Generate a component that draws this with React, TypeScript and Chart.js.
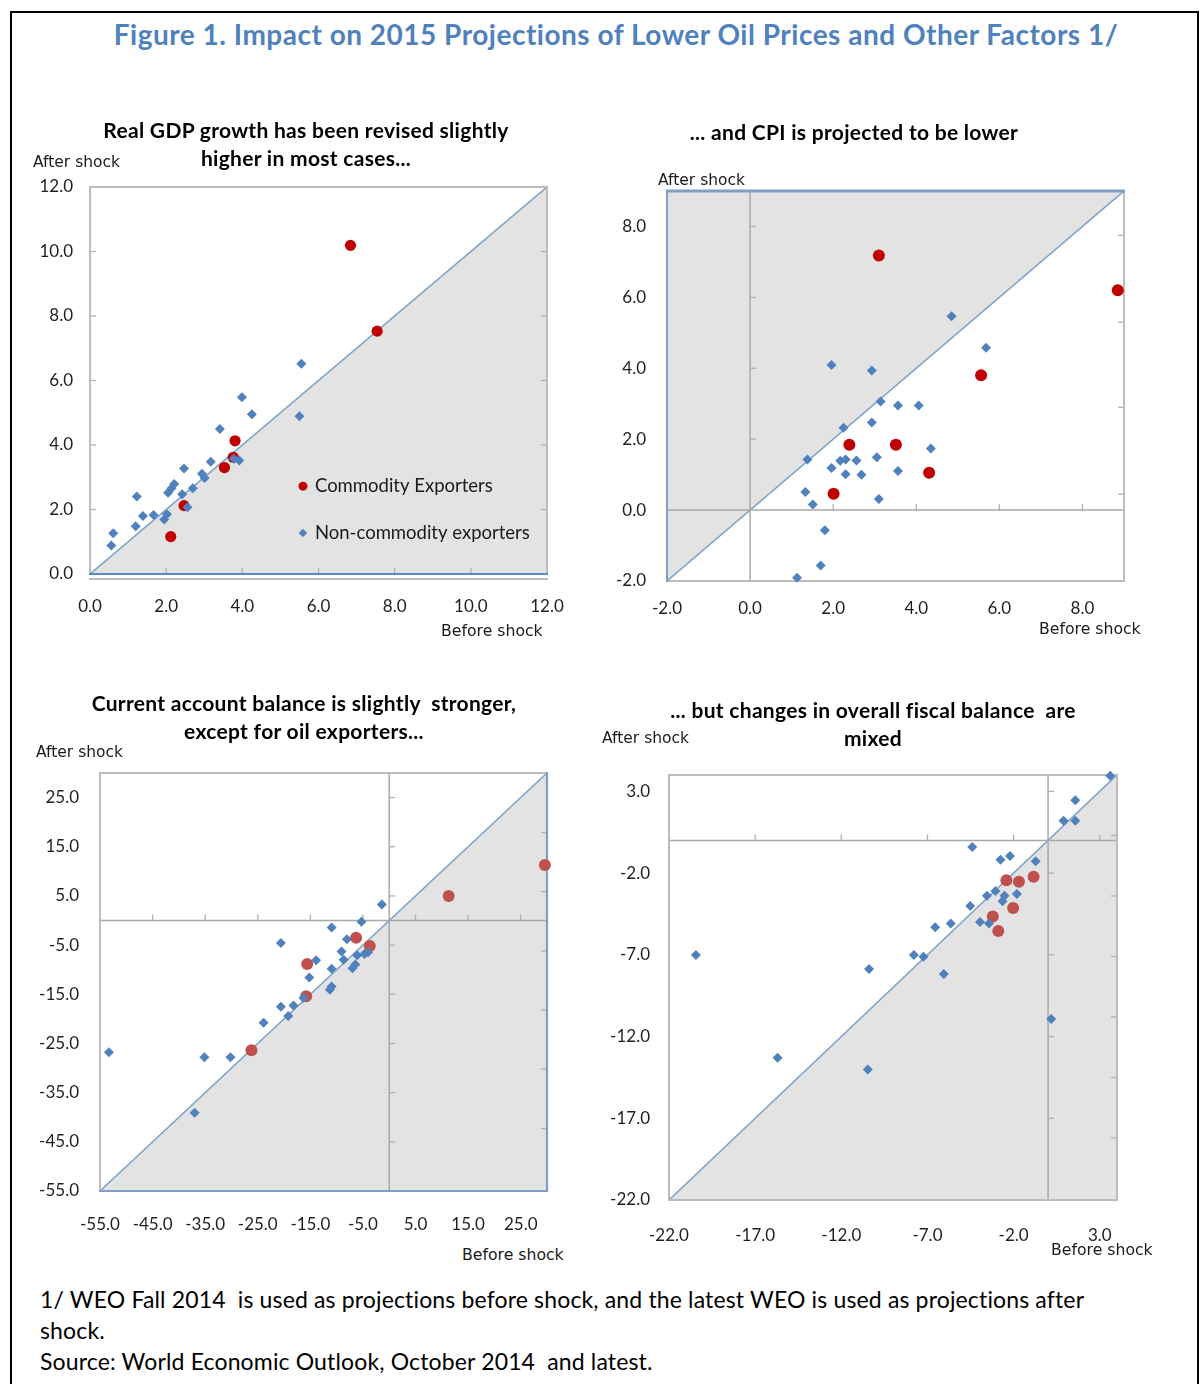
import React, { useEffect, useRef } from 'react';
import { Chart, registerables } from 'chart.js';

Chart.register(...registerables);

// ---------------- Panel 1: Real GDP growth ----------------
const gdpTicks = [0, 2, 4, 6, 8, 10, 12];
const gdpCommodityBefore = [6.84, 7.54, 3.81, 3.76, 3.53, 2.47, 2.12];
const gdpCommodityAfter = [10.19, 7.53, 4.13, 3.62, 3.30, 2.12, 1.16];
const gdpNonBefore = [0.56, 0.61, 1.20, 1.23, 1.39, 1.67, 1.95, 2.02, 2.05, 2.14, 2.21, 2.42, 2.47, 2.56, 2.70, 2.94, 3.01, 3.17, 3.41, 3.78, 3.92, 3.99, 4.25, 5.55, 5.50];
const gdpNonAfter = [0.88, 1.26, 1.48, 2.40, 1.80, 1.83, 1.69, 1.85, 2.52, 2.66, 2.79, 2.47, 3.27, 2.07, 2.66, 3.11, 2.98, 3.48, 4.50, 3.57, 3.52, 5.48, 4.95, 6.52, 4.89];
const gdpInnerTicks = [2, 4, 6, 8, 10];
const gdpRightTicks = [2, 4, 6, 8, 10];

// ---------------- Panel 2: CPI ----------------
const cpiTicks = [-2, 0, 2, 4, 6, 8];
const cpiCommodityBefore = [3.10, 8.85, 5.56, 2.39, 3.51, 4.31, 2.01];
const cpiCommodityAfter = [7.18, 6.20, 3.80, 1.84, 1.84, 1.05, 0.46];
const cpiNonBefore = [4.85, 5.68, 1.96, 2.93, 3.14, 3.56, 4.06, 2.25, 2.93, 4.35, 1.38, 1.96, 2.17, 2.30, 2.56, 3.05, 2.30, 2.68, 3.56, 1.33, 1.51, 3.10, 1.80, 1.70, 1.13];
const cpiNonAfter = [5.47, 4.58, 4.09, 3.94, 3.06, 2.95, 2.95, 2.32, 2.47, 1.74, 1.43, 1.19, 1.39, 1.43, 1.40, 1.49, 1.01, 1.00, 1.10, 0.51, 0.16, 0.31, -0.57, -1.56, -1.91];
const cpiInnerXTicks = [2, 4, 6, 8];
const cpiInnerYTicks = [2, 4, 6, 8];
const cpiRightTicks = [0.45, 2.9, 5.3, 7.75];

// ---------------- Panel 3: Current account ----------------
const caTicks = [-55, -45, -35, -25, -15, -5, 5, 15, 25];
const caCommodityBefore = [29.6, 11.3, -6.3, -3.7, -15.6, -15.8, -26.2];
const caCommodityAfter = [11.3, 5.0, -3.5, -5.2, -8.85, -15.4, -26.4];
const caNonBefore = [-1.4, -5.28, -10.95, -20.6, -8.04, -9.08, -8.66, -6.1, -4.72, -4.03, -13.9, -10.95, -6.45, -7.0, -15.2, -10.95, -11.3, -16.3, -20.6, -18.2, -19.2, -23.9, -35.15, -30.2, -53.3, -37.0];
const caNonAfter = [3.26, -0.23, -1.4, -4.58, -3.8, -6.3, -8.0, -7.07, -6.83, -6.45, -8.08, -9.79, -8.93, -9.71, -11.57, -13.4, -14.06, -15.77, -17.55, -17.3, -19.4, -20.8, -27.8, -27.8, -26.8, -39.1];
const caInnerXTicks = [-45, -35, -25, -15, -5, 5, 15, 25];
const caInnerYTicks = [25, 15, 5, -5, -15, -25, -35, -45];
const caRightTicks = [17.9, 5.9, -6.2, -18.2, -30.2, -42.3];

// ---------------- Panel 4: Fiscal balance ----------------
const fiscalTicks = [-22, -17, -12, -7, -2, 3];
const fiscalCommodityBefore = [-2.42, -1.69, -0.84, -2.03, -3.21, -2.89];
const fiscalCommodityAfter = [-2.44, -2.53, -2.22, -4.14, -4.66, -5.54];
const fiscalNonBefore = [3.61, 1.58, 0.90, 1.58, -4.40, -2.76, -2.21, -0.72, -3.05, -3.55, -2.53, -1.81, -2.64, -4.52, -3.95, -3.43, -5.65, -6.55, -7.79, -7.23, -6.05, -10.39, -20.44, -15.7, -10.46, 0.18];
const fiscalNonAfter = [3.96, 2.46, 1.20, 1.20, -0.41, -1.18, -0.95, -1.27, -3.10, -3.39, -3.39, -3.28, -3.73, -4.02, -5.0, -5.09, -5.09, -5.31, -7.01, -7.12, -8.18, -7.87, -7.01, -13.29, -14.01, -10.92];
const fiscalInnerXTicks = [-17, -12, -7, -2, 3];
const fiscalInnerYTicks = [3, -2, -7, -12, -17];
const fiscalRightTicks = [0.3, -3.4, -7.1, -10.8, -14.5, -18.2];

const LEGEND_LABELS = ['Commodity Exporters', 'Non-commodity exporters'];

// ---------------- styles ----------------
const BLUE = '#4f81bd';
const DARK_RED = '#c00000';
const SOFT_RED = '#c0504d';
const SHADE = '#e3e3e3';
const DIAG = '#7ea3c7';
const GRAY = '#bcbcbc';
const EDGE_BLUE = '#7f9fc6';
const TICK_FONT = 'Lato, "Open Sans", sans-serif';

const zip = (xs: number[], ys: number[]) => xs.map((x, i) => ({ x, y: ys[i] }));

const decorPlugin = {
  id: 'decor',
  afterDatasetDraw(chart: any, args: any, opts: any) {
    if (args.index !== 0) return;
    const { ctx, chartArea: a } = chart;
    const xs = chart.scales.x;
    const ys = chart.scales.y;
    const line = (x1: number, y1: number, x2: number, y2: number) => {
      ctx.beginPath();
      ctx.moveTo(x1, y1);
      ctx.lineTo(x2, y2);
      ctx.stroke();
    };
    ctx.save();
    const x0 = xs.getPixelForValue(0);
    const y0 = ys.getPixelForValue(0);
    ctx.strokeStyle = '#a8a8a8';
    ctx.lineWidth = 1.5;
    if (xs.min < 0 && xs.max > 0) line(x0, a.top, x0, a.bottom);
    if (ys.min < 0 && ys.max > 0) line(a.left, y0, a.right, y0);

    const L = 6;
    ctx.strokeStyle = '#b0b0b0';
    ctx.lineWidth = 1.3;
    const vx = Math.max(a.left, Math.min(a.right, x0));
    const hy = Math.max(a.top, Math.min(a.bottom, y0));
    (opts.yLineTicks || []).forEach((v: number) => {
      const py = ys.getPixelForValue(v);
      line(vx, py, vx + L, py);
    });
    (opts.xLineTicks || []).forEach((v: number) => {
      const px = xs.getPixelForValue(v);
      line(px, hy, px, hy - L);
    });
    (opts.rightTicks || []).forEach((v: number) => {
      const py = ys.getPixelForValue(v);
      line(a.right, py, a.right - L, py);
    });

    if (opts.extraBottom) {
      ctx.strokeStyle = GRAY;
      ctx.lineWidth = 2;
      line(a.left - 1, a.bottom + opts.extraBottom, a.right + 1, a.bottom + opts.extraBottom);
    }

    const edges = opts.borders || {};
    const order = ['top', 'right', 'bottom', 'left'];
    const draw = (side: string) => {
      const [color, w] = edges[side];
      ctx.strokeStyle = color;
      ctx.lineWidth = w;
      if (side === 'top') line(a.left - 1, a.top, a.right + 1, a.top);
      if (side === 'bottom') line(a.left - 1, a.bottom, a.right + 1, a.bottom);
      if (side === 'left') line(a.left, a.top - 1, a.left, a.bottom + 1);
      if (side === 'right') line(a.right, a.top - 1, a.right, a.bottom + 1);
    };
    order.filter((s) => edges[s] && edges[s][0] === GRAY).forEach(draw);
    order.filter((s) => edges[s] && edges[s][0] !== GRAY).forEach(draw);
    ctx.restore();
  },
  afterDraw(chart: any, _args: any, opts: any) {
    const lg = opts.legend;
    if (!lg) return;
    const { ctx, chartArea: a } = chart;
    const ds = chart.data.datasets;
    ctx.save();
    const mx = a.left + lg.fx * (a.right - a.left);
    [1, 2].forEach((di, k) => {
      const my = a.top + lg.fy[k] * (a.bottom - a.top);
      ctx.fillStyle = ds[di].backgroundColor;
      ctx.beginPath();
      if (ds[di].pointStyle === 'circle') {
        ctx.arc(mx, my, 4.5, 0, Math.PI * 2);
      } else {
        const r = 4.3;
        ctx.moveTo(mx, my - r);
        ctx.lineTo(mx + r, my);
        ctx.lineTo(mx, my + r);
        ctx.lineTo(mx - r, my);
        ctx.closePath();
      }
      ctx.fill();
      ctx.fillStyle = '#1a1a1a';
      ctx.font = '18.5px ' + TICK_FONT;
      ctx.textBaseline = 'middle';
      ctx.textAlign = 'left';
      ctx.fillText(ds[di].label, mx + 12, my);
    });
    ctx.restore();
  },
};

type PanelCfg = {
  rect: [number, number, number, number];
  xMin: number; xMax: number; yMin: number; yMax: number;
  xTicks: number[]; yTicks: number[];
  cBefore: number[]; cAfter: number[]; nBefore: number[]; nAfter: number[];
  red: string; redR: number; blueR: number;
  fill: string;
  xLineTicks: number[]; yLineTicks: number[]; rightTicks: number[];
  borders: any;
  xPad: number; yPad: number;
  legend?: any;
  extraBottom?: number;
};

const YW = 80, PT = 50, PR = 50, XH = 52;

function Panel({ cfg }: { cfg: PanelCfg }) {
  const ref = useRef<HTMLCanvasElement>(null);
  const [L, T, R, B] = cfg.rect;
  const w = R - L + YW + PR;
  const h = B - T + PT + XH;
  useEffect(() => {
    if (!ref.current) return;
    const tickFont = { family: TICK_FONT, size: 17 };
    const chart = new Chart(ref.current, {
      type: 'scatter',
      data: {
        datasets: [
          {
            type: 'line',
            label: 'diag',
            data: [{ x: cfg.xMin, y: cfg.yMin }, { x: cfg.xMax, y: cfg.yMax }],
            borderColor: DIAG,
            borderWidth: 1.6,
            backgroundColor: SHADE,
            fill: cfg.fill,
            pointRadius: 0,
            order: 3,
          } as any,
          {
            label: LEGEND_LABELS[0],
            data: zip(cfg.cBefore, cfg.cAfter),
            pointStyle: 'circle',
            pointRadius: cfg.redR,
            backgroundColor: cfg.red,
            borderWidth: 0,
            order: 2,
            clip: false,
          } as any,
          {
            label: LEGEND_LABELS[1],
            data: zip(cfg.nBefore, cfg.nAfter),
            pointStyle: 'rectRot',
            pointRadius: cfg.blueR,
            backgroundColor: BLUE,
            borderWidth: 0,
            order: 1,
            clip: false,
          } as any,
        ],
      },
      options: {
        animation: false,
        responsive: false,
        events: [],
        layout: { padding: { left: 0, top: PT, right: PR, bottom: 0 } },
        plugins: {
          legend: { display: false },
          tooltip: { enabled: false },
          decor: {
            xLineTicks: cfg.xLineTicks,
            yLineTicks: cfg.yLineTicks,
            rightTicks: cfg.rightTicks,
            borders: cfg.borders,
            legend: cfg.legend,
            extraBottom: cfg.extraBottom,
          },
        } as any,
        scales: {
          x: {
            type: 'linear',
            min: cfg.xMin,
            max: cfg.xMax,
            afterBuildTicks: (s: any) => { s.ticks = cfg.xTicks.map((v) => ({ value: v })); },
            afterFit: (s: any) => { s.height = XH; },
            grid: { display: false, drawTicks: false },
            border: { display: false },
            ticks: {
              autoSkip: false,
              maxRotation: 0,
              padding: cfg.xPad,
              font: tickFont,
              color: '#1f1f1f',
              callback: (v: any) => Number(v).toFixed(1),
            },
          },
          y: {
            type: 'linear',
            min: cfg.yMin,
            max: cfg.yMax,
            afterBuildTicks: (s: any) => { s.ticks = cfg.yTicks.map((v) => ({ value: v })); },
            afterFit: (s: any) => { s.width = YW; },
            grid: { display: false, drawTicks: false },
            border: { display: false },
            ticks: {
              autoSkip: false,
              padding: cfg.yPad,
              font: tickFont,
              color: '#1f1f1f',
              callback: (v: any) => Number(v).toFixed(1),
            },
          },
        },
      } as any,
      plugins: [decorPlugin as any],
    });
    return () => chart.destroy();
  }, []);
  return (
    <canvas
      ref={ref}
      width={w}
      height={h}
      style={{ position: 'absolute', left: L - YW, top: T - PT, width: w, height: h }}
    />
  );
}

const gray2 = [GRAY, 2];
const panels: PanelCfg[] = [
  {
    rect: [90, 187, 547, 574], xMin: 0, xMax: 12, yMin: 0, yMax: 12,
    xTicks: gdpTicks, yTicks: gdpTicks,
    cBefore: gdpCommodityBefore, cAfter: gdpCommodityAfter, nBefore: gdpNonBefore, nAfter: gdpNonAfter,
    red: DARK_RED, redR: 5.6, blueR: 5, fill: 'start',
    xLineTicks: gdpInnerTicks, yLineTicks: gdpInnerTicks, rightTicks: gdpRightTicks,
    borders: { top: gray2, right: gray2, left: gray2, bottom: ['#5b8ac0', 2.2] },
    xPad: 22, yPad: 17,
    legend: { fx: 0.466, fy: [0.773, 0.894] },
    extraBottom: 5,
  },
  {
    rect: [667, 191, 1124, 581], xMin: -2, xMax: 9, yMin: -2, yMax: 9,
    xTicks: cpiTicks, yTicks: cpiTicks,
    cBefore: cpiCommodityBefore, cAfter: cpiCommodityAfter, nBefore: cpiNonBefore, nAfter: cpiNonAfter,
    red: DARK_RED, redR: 6, blueR: 5, fill: 'end',
    xLineTicks: cpiInnerXTicks, yLineTicks: cpiInnerYTicks, rightTicks: cpiRightTicks,
    borders: { top: [EDGE_BLUE, 3], right: gray2, bottom: gray2, left: [EDGE_BLUE, 2] },
    xPad: 17, yPad: 21,
  },
  {
    rect: [100, 773, 547, 1191], xMin: -55, xMax: 30, yMin: -55, yMax: 30,
    xTicks: caTicks, yTicks: caTicks,
    cBefore: caCommodityBefore, cAfter: caCommodityAfter, nBefore: caNonBefore, nAfter: caNonAfter,
    red: SOFT_RED, redR: 6, blueR: 5, fill: 'start',
    xLineTicks: caInnerXTicks, yLineTicks: caInnerYTicks, rightTicks: caRightTicks,
    borders: { top: gray2, left: gray2, right: [EDGE_BLUE, 2.2], bottom: [EDGE_BLUE, 2.2] },
    xPad: 23, yPad: 21,
  },
  {
    rect: [669, 775, 1117, 1200], xMin: -22, xMax: 4, yMin: -22, yMax: 4,
    xTicks: fiscalTicks, yTicks: fiscalTicks,
    cBefore: fiscalCommodityBefore, cAfter: fiscalCommodityAfter, nBefore: fiscalNonBefore, nAfter: fiscalNonAfter,
    red: SOFT_RED, redR: 6, blueR: 5, fill: 'start',
    xLineTicks: fiscalInnerXTicks, yLineTicks: fiscalInnerYTicks, rightTicks: fiscalRightTicks,
    borders: { top: gray2, right: gray2, bottom: gray2, left: gray2 },
    xPad: 25, yPad: 19,
  },
];

const titleStyle = (cx: number, top: number): React.CSSProperties => ({
  position: 'absolute',
  left: cx - 300,
  width: 600,
  top,
  textAlign: 'center',
  font: 'bold 21px Lato, "Open Sans", sans-serif',
  letterSpacing: '0.3px',
  lineHeight: '28px',
  color: '#000',
  whiteSpace: 'pre',
});

const smallLabel = (left: number, cy: number, size: number): React.CSSProperties => ({
  position: 'absolute',
  left,
  top: cy - 10,
  font: `${size}px "DejaVu Sans", sans-serif`,
  lineHeight: '20px',
  color: '#1a1a1a',
  whiteSpace: 'pre',
});

export default function App() {
  return (
    <div style={{ position: 'absolute', left: 0, top: 0, width: 1202, height: 1384, overflow: 'hidden', background: '#fff' }}>
      <div style={{ position: 'absolute', left: 10, top: 11, width: 1189, height: 1420, boxSizing: 'border-box', borderTop: '2px solid #000', borderLeft: '2px solid #000', borderRight: '2px solid #000' }} />

      {panels.map((p, i) => <Panel key={i} cfg={p} />)}

      <div style={{ position: 'absolute', left: 16, width: 1200, top: 17, textAlign: 'center', font: 'bold 28px Lato, "Open Sans", sans-serif', letterSpacing: '0.5px', lineHeight: '34px', color: '#4f81bd', whiteSpace: 'pre' }}>
        Figure 1. Impact on 2015 Projections of Lower Oil Prices and Other Factors 1/
      </div>

      <div style={titleStyle(306, 116)}>{'Real GDP growth has been revised slightly\nhigher in most cases...'}</div>
      <div style={titleStyle(854, 118)}>{'... and CPI is projected to be lower'}</div>
      <div style={titleStyle(304, 689)}>{'Current account balance is slightly  stronger,\nexcept for oil exporters...'}</div>
      <div style={titleStyle(873, 696)}>{'... but changes in overall fiscal balance  are\nmixed'}</div>

      <div style={smallLabel(33, 162, 15.5)}>After shock</div>
      <div style={smallLabel(658, 180, 15.5)}>After shock</div>
      <div style={smallLabel(36, 752, 15.5)}>After shock</div>
      <div style={smallLabel(602, 738, 15.5)}>After shock</div>
      <div style={smallLabel(441, 631, 15.7)}>Before shock</div>
      <div style={smallLabel(1039, 629, 15.7)}>Before shock</div>
      <div style={smallLabel(462, 1255, 15.7)}>Before shock</div>
      <div style={smallLabel(1051, 1250, 15.7)}>Before shock</div>

      <div style={{ position: 'absolute', left: 40, top: 1284, font: '23px Lato, "Open Sans", sans-serif', letterSpacing: '0.15px', lineHeight: '31px', color: '#000', whiteSpace: 'pre' }}>
        {'1/ WEO Fall 2014  is used as projections before shock, and the latest WEO is used as projections after\nshock.\nSource: World Economic Outlook, October 2014  and latest.'}
      </div>
    </div>
  );
}
